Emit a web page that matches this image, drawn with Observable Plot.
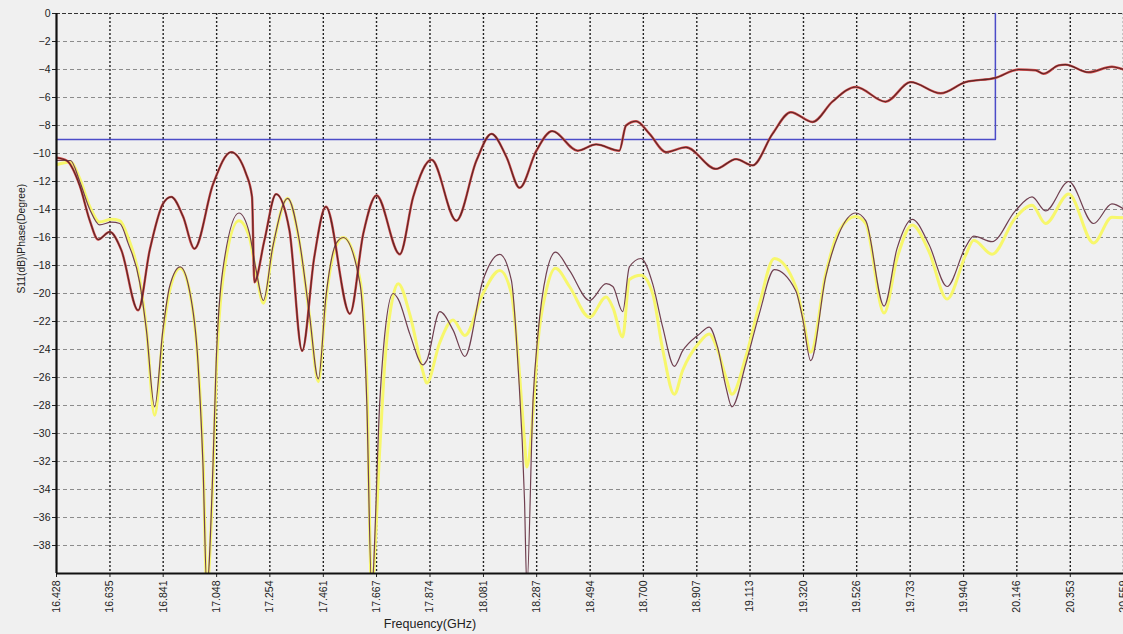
<!DOCTYPE html>
<html><head><meta charset="utf-8">
<script src="https://cdn.jsdelivr.net/npm/d3@7"></script>
<script src="https://cdn.jsdelivr.net/npm/@observablehq/plot@0.6"></script>
<style>
html,body{margin:0;padding:0;background:#f0f0f0;}
#chart svg{display:block;background:#f0f0f0;}
</style></head><body><div id="chart"></div>
<script>
// Upper trace (red + dark overlay), frequency in GHz, S11 in dB
const topFreq = [16.428,16.467,16.518,16.557,16.589,16.634,16.679,16.744,16.789,16.840,16.872,16.918,16.962,17.034,17.104,17.162,17.185,17.194,17.233,17.278,17.330,17.379,17.426,17.471,17.564,17.616,17.667,17.757,17.809,17.880,17.976,18.054,18.112,18.170,18.221,18.286,18.347,18.446,18.517,18.607,18.633,18.672,18.724,18.788,18.865,18.981,19.059,19.123,19.200,19.271,19.355,19.432,19.523,19.638,19.735,19.851,19.947,20.063,20.153,20.218,20.250,20.308,20.334,20.424,20.514,20.559];
const topS11 = [-10.3,-10.5,-12.3,-14.8,-16.15,-15.6,-16.9,-21.2,-16.9,-13.6,-13.1,-14.5,-16.8,-12.2,-9.9,-11.45,-13.1,-19.2,-16.2,-12.9,-15.5,-24.1,-17.4,-13.8,-21.45,-15.7,-13.0,-17.2,-13.1,-10.45,-14.8,-10.5,-8.6,-10.25,-12.45,-9.8,-8.4,-9.8,-9.35,-9.8,-8.0,-7.7,-8.6,-9.9,-9.55,-11.1,-10.4,-10.85,-8.6,-7.05,-7.75,-6.3,-5.25,-6.3,-4.9,-5.7,-4.9,-4.6,-4.0,-4.05,-4.3,-3.7,-3.65,-4.2,-3.8,-4.0];

// Lower traces (dark + yellow)
const botFreq = [16.428,16.482,16.518,16.557,16.595,16.641,16.673,16.705,16.750,16.776,
  16.808,16.840,16.866,16.907,16.943,16.976,16.995,17.010,17.034,17.046,
  17.072,17.134,17.175,17.201,17.229,17.265,17.323,17.368,17.407,17.442,
  17.471,17.510,17.538,17.603,17.629,17.648,17.680,17.699,17.731,17.751,
  17.796,17.847,17.861,17.912,17.963,18.009,18.079,18.144,18.189,18.215,
  18.240,18.249,18.273,18.292,18.324,18.360,18.414,18.492,18.556,18.582,
  18.620,18.646,18.691,18.736,18.775,18.820,18.852,18.917,18.955,18.987,
  19.020,19.043,19.097,19.149,19.207,19.290,19.316,19.348,19.406,19.458,
  19.522,19.561,19.632,19.682,19.741,19.806,19.876,19.947,19.979,20.050,
  20.140,20.205,20.257,20.347,20.443,20.514,20.559];
const botDark = [-10.5,-10.5,-12.0,-14.0,-15.1,-14.9,-15.0,-16.4,-19.2,-22.6,
  -28.1,-22.6,-19.5,-18.1,-19.8,-25.0,-32.2,-41,-32.2,-25.0,
  -18.3,-14.25,-15.7,-18.35,-20.5,-16.7,-13.2,-16.2,-21.45,-26.1,
  -20.25,-16.45,-16.0,-19.3,-27.6,-41,-27.6,-22.9,-20.0,-20.4,
  -22.9,-25.1,-24.8,-21.3,-22.6,-24.5,-19.05,-17.2,-19.05,-25.2,
  -34.8,-41,-27.6,-22.9,-18.6,-17.05,-18.35,-20.5,-19.3,-19.5,
  -21.3,-18.1,-17.5,-19.3,-22.4,-25.2,-24.1,-22.9,-22.4,-23.8,
  -26.7,-28.1,-25.0,-21.45,-18.3,-19.8,-21.7,-24.8,-18.8,-15.7,
  -14.25,-14.8,-20.9,-16.8,-14.7,-16.5,-19.5,-16.7,-15.9,-16.3,
  -14.1,-13.1,-14.1,-12.0,-15.0,-13.6,-13.95];
const botYellow = [-10.8,-10.6,-11.8,-13.8,-14.9,-14.7,-14.8,-16.0,-19.0,-22.5,
  -28.7,-23.0,-19.8,-18.2,-19.8,-25.0,-31.5,-41,-33.0,-26.0,
  -19.0,-14.8,-16.0,-18.5,-20.7,-16.8,-13.2,-16.3,-21.5,-26.3,
  -20.5,-16.6,-16.0,-19.0,-26.0,-41,-31.0,-25.0,-20.2,-19.3,
  -21.5,-25.6,-26.4,-23.5,-21.9,-23.0,-20.0,-18.35,-20.0,-24.5,
  -30.5,-32.4,-28.5,-23.5,-19.8,-18.2,-19.5,-21.7,-20.25,-21.0,
  -23.1,-19.0,-18.7,-20.0,-24.0,-27.2,-25.5,-23.5,-22.9,-24.0,
  -26.0,-27.2,-24.5,-20.8,-17.5,-19.5,-21.5,-24.2,-18.6,-15.5,
  -14.5,-15.0,-21.4,-17.5,-15.1,-17.0,-20.4,-17.3,-16.2,-17.2,
  -14.6,-13.7,-15.0,-12.9,-16.4,-14.55,-14.6];

// Blue limit mask
const limitFreq = [16.428, 20.063, 20.063];
const limitS11 = [-9, -9, 0];

// Axis ticks
const xTicks = [16.428,16.635,16.841,17.048,17.254,17.461,17.667,17.874,18.081,18.287,18.494,18.700,18.907,19.113,19.320,19.526,19.733,19.940,20.146,20.353,20.559];
const yTicks = [0,-2,-4,-6,-8,-10,-12,-14,-16,-18,-20,-22,-24,-26,-28,-30,-32,-34,-36,-38];
const xLabel = "Frequency(GHz)";
const yLabel = "S11(dB)\\Phase(Degree)";

const topData = topFreq.map((f, i) => ({f, v: topS11[i]}));
const botData = botFreq.map((f, i) => ({f, d: botDark[i], y: botYellow[i]}));
const limitData = limitFreq.map((f, i) => ({f, v: limitS11[i]}));

const chart = Plot.plot({
  width: 1123,
  height: 634,
  marginTop: 13,
  marginBottom: 61,
  marginLeft: 56,
  marginRight: 0,
  style: {background: "#f0f0f0", fontFamily: "Arial, 'Liberation Sans', sans-serif", fontSize: "10.5px", color: "#222"},
  x: {domain: [16.428, 20.559], ticks: xTicks, tickFormat: d3.format(".3f"), tickRotate: -90, tickSize: 4, tickPadding: 3, label: null},
  y: {domain: [-40, 0], ticks: yTicks, tickSize: 4, tickPadding: 2, label: null},
  marks: [
    Plot.ruleY(yTicks.filter(d => d < 0), {stroke: "#8c8c8c", strokeWidth: 1, strokeDasharray: "4,3"}),
    Plot.ruleY([0], {stroke: "#333", strokeWidth: 1.2, strokeDasharray: "4,2"}),
    Plot.ruleX(xTicks.slice(1), {stroke: "#222", strokeWidth: 1.4, strokeDasharray: "2,2"}),
    Plot.line(limitData, {x: "f", y: "v", stroke: "#4b4bc8", strokeWidth: 1.5}),
    Plot.line(botData, {x: "f", y: "y", stroke: "#f7f76c", strokeWidth: 3, curve: "monotone-x", clip: true}),
    Plot.line(topData, {x: "f", y: "v", stroke: "#d04a4a", strokeWidth: 2.4, curve: "monotone-x", clip: true}),
    Plot.line(botData, {x: "f", y: "d", stroke: "#704050", strokeWidth: 1.2, curve: "monotone-x", clip: true}),
    Plot.line(topData, {x: "f", y: "v", stroke: "#5a2626", strokeWidth: 1.1, curve: "monotone-x", clip: true}),
    Plot.ruleX([16.428], {stroke: "#111", strokeWidth: 2.2}),
    Plot.ruleY([-40], {stroke: "#111", strokeWidth: 2.2}),
    Plot.text([xLabel], {frameAnchor: "bottom", dx: -160, dy: 54, fontSize: 12.5, fill: "#222"}),
    Plot.text([yLabel], {frameAnchor: "left", dx: -35, rotate: -90, fontSize: 10.3, fill: "#222"})
  ]
});
document.getElementById("chart").append(chart);
</script>
</body></html>
